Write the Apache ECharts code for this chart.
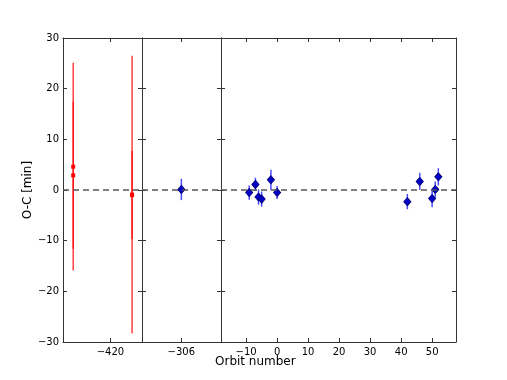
<!DOCTYPE html>
<html>
<head>
<meta charset="utf-8">
<script src="https://cdn.jsdelivr.net/npm/echarts@6/dist/echarts.min.js"></script>
<style>
html, body { margin: 0; padding: 0; background: #fff; }
#chart { width: 507px; height: 380px; }
</style>
</head>
<body>
<div id="chart"></div>
<script>
// early (red) timings
var redX = [-432, -432, -413, -413]
var redY = [4.6, 2.9, -0.9, -1.0]
var redErr = [20.5, 14.5, 27.4, 8.7]

// new (blue) timings
var blueX = [-306, -9, -7, -6, -5, -2, 0, 42, 46, 50, 51, 52]
var blueY = [0.1, -0.5, 1.1, -1.4, -1.8, 2.0, -0.5, -2.3, 1.7, -1.7, 0.1, 2.6]
var blueErr = [2.1, 1.4, 1.3, 1.5, 1.5, 2.0, 1.3, 1.5, 1.7, 1.7, 1.6, 1.7]

// broken x axis: three panels
var panelMin = [-435.3, -318.7, -18.1]
var panelMax = [-409.8, -293.2, 57.7]
var panelTicks = [[-420], [-306], [-10, 0, 10, 20, 30, 40, 50]]

var gridLeft = [63, 142, 221]
var gridWidth = [79, 79, 235]

var font = 'DejaVu Sans'
var minus = function (v) { return String(v).replace('-', '\u2212') }

var grids = [], xAxes = [], yAxes = [], series = []

function pick(xs, ys, es, i) {
    var out = []
    for (var k = 0; k < xs.length; k++) {
        if (xs[k] >= panelMin[i] && xs[k] <= panelMax[i]) out.push([xs[k], ys[k], es[k]])
    }
    return out
}

function errBars(color, opacity) {
    return function (params, api) {
        var x = api.value(0), y = api.value(1), e = api.value(2)
        var a = api.coord([x, y - e]), b = api.coord([x, y + e])
        return {
            type: 'line',
            shape: { x1: a[0], y1: a[1], x2: b[0], y2: b[1] },
            style: { stroke: color, lineWidth: 1.5, opacity: opacity }
        }
    }
}

var axisLine = { show: true, onZero: false, lineStyle: { color: '#333', width: 1 } }

for (var i = 0; i < 3; i++) {
    grids.push({ left: gridLeft[i], width: gridWidth[i], top: 38, height: 304 })
}
// bottom x axes
for (var i = 0; i < 3; i++) {
    xAxes.push({
        type: 'value', gridIndex: i, position: 'bottom', min: panelMin[i], max: panelMax[i],
        axisLine: axisLine, splitLine: { show: false },
        axisTick: { inside: true, length: 4, customValues: panelTicks[i], lineStyle: { color: '#333' } },
        axisLabel: { customValues: panelTicks[i], formatter: minus, fontFamily: font, fontSize: 10, color: '#000', margin: 5 }
    })
}
// top x axes (ticks only)
for (var i = 0; i < 3; i++) {
    xAxes.push({
        type: 'value', gridIndex: i, position: 'top', min: panelMin[i], max: panelMax[i],
        axisLine: axisLine, splitLine: { show: false },
        axisTick: { inside: true, length: 4, customValues: panelTicks[i], lineStyle: { color: '#333' } },
        axisLabel: { show: false }
    })
}
// left y axes
for (var i = 0; i < 3; i++) {
    yAxes.push({
        type: 'value', gridIndex: i, position: 'left', min: -30, max: 30, interval: 10,
        axisLine: axisLine, splitLine: { show: false },
        axisTick: { inside: true, length: 4, lineStyle: { color: '#333' } },
        axisLabel: { show: i === 0, formatter: minus, fontFamily: font, fontSize: 10, color: '#000', margin: 4 },
        name: i === 0 ? 'O-C [min]' : '', nameLocation: 'middle', nameGap: 27, nameRotate: 90,
        nameTextStyle: { fontFamily: font, fontSize: 12, color: '#000' }
    })
}
// right y axes (ticks only)
for (var i = 0; i < 3; i++) {
    yAxes.push({
        type: 'value', gridIndex: i, position: 'right', min: -30, max: 30, interval: 10,
        axisLine: axisLine, splitLine: { show: false },
        axisTick: { inside: true, length: 4, lineStyle: { color: '#333' } },
        axisLabel: { show: false }
    })
}

for (var i = 0; i < 3; i++) {
    var red = pick(redX, redY, redErr, i)
    var blue = pick(blueX, blueY, blueErr, i)

    // zero line
    series.push({
        type: 'scatter', xAxisIndex: i, yAxisIndex: i, data: [], silent: true,
        markLine: {
            silent: true, symbol: 'none', label: { show: false }, animation: false,
            lineStyle: { type: [6, 4], color: '#555', width: 1.5 },
            data: [{ yAxis: 0 }]
        }
    })
    series.push({
        type: 'custom', xAxisIndex: i, yAxisIndex: i, data: red, z: 3,
        renderItem: errBars('#ff0000', 0.75), animation: false
    })
    series.push({
        type: 'scatter', xAxisIndex: i, yAxisIndex: i, data: red, z: 4,
        symbol: 'rect', symbolSize: 4, itemStyle: { color: '#ff0000', opacity: 1 }, animation: false
    })
    series.push({
        type: 'custom', xAxisIndex: i, yAxisIndex: i, data: blue, z: 3,
        renderItem: errBars('#0000ff', 0.7), animation: false
    })
    series.push({
        type: 'scatter', xAxisIndex: i, yAxisIndex: i, data: blue, z: 4,
        symbol: 'diamond', symbolSize: [7, 8],
        itemStyle: { color: '#0000cc', borderColor: '#000080', borderWidth: 1, opacity: 1 }, animation: false
    })
}

var chart = echarts.init(document.getElementById('chart'))
chart.setOption({
    animation: false,
    grid: grids,
    xAxis: xAxes,
    yAxis: yAxes,
    series: series,
    graphic: [{
        type: 'text', left: 215, top: 356,
        style: { text: 'Orbit number', font: '12px "DejaVu Sans"', fill: '#000' }
    }]
})
</script>
</body>
</html>
